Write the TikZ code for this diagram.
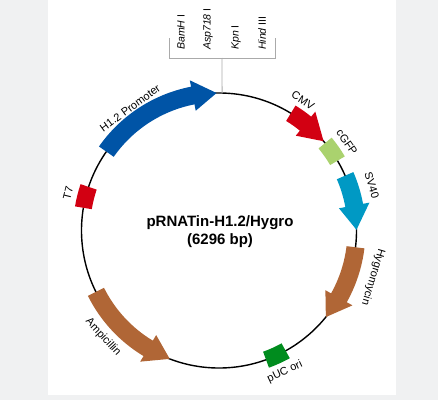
\documentclass[tikz,border=0pt]{standalone}
\usepackage{fontspec}
\setmainfont{Liberation Sans}
\definecolor{bggray}{RGB}{240,241,242}
\definecolor{pblue}{RGB}{0,84,166}
\definecolor{pred}{RGB}{210,0,18}
\definecolor{plgreen}{RGB}{170,210,110}
\definecolor{pcyan}{RGB}{0,153,196}
\definecolor{pbrown}{RGB}{176,102,54}
\definecolor{pdgreen}{RGB}{0,140,30}
\definecolor{sitegray}{RGB}{170,170,170}
\newcommand\plasarrow[4]{%
  \fill[#4] (#1:146.5) arc[start angle=#1, end angle=#2, radius=146.5] -- (#2:153) -- (#3:137.5) -- (#2:122) -- (#2:128.5) arc[start angle=#2, end angle=#1, radius=128.5] -- cycle;}
\newcommand\plasbox[3]{%
  \fill[#3] (#1:146) arc[start angle=#1, end angle=#2, radius=146] -- (#2:129) arc[start angle=#2, end angle=#1, radius=129] -- cycle;}
\begin{document}
\begin{tikzpicture}[x=1pt,y=1pt,
  lab/.style={inner sep=0pt, font=\fontsize{11}{13}\selectfont},
  sitelab/.style={inner sep=0pt, rotate=90, anchor=west, font=\fontsize{10.5}{12}\selectfont},
  titlelab/.style={inner sep=0pt, align=center, font=\bfseries\fontsize{15}{18}\selectfont},
  siteline/.style={draw=sitegray, line width=0.8pt}]
\useasboundingbox (0,0) rectangle (438,400);
\fill[bggray] (0,0) rectangle (438,400);
\fill[white] (48,5) rectangle (396,400);
\begin{scope}[shift={(219,169.5)}]
  \coordinate (top) at (88.7:137.5);
  \draw[line width=1.4pt] (0,0) circle[radius=137.5];
  % features
  \plasarrow{145}{101}{91}{pblue}
  \plasarrow{58.5}{51}{40.5}{pred}
  \plasbox{30.5}{39.5}{plgreen}
  \plasarrow{23.5}{10.5}{0.3}{pcyan}
  \plasarrow{-7}{-29.3}{-39}{pbrown}
  \plasbox{-61}{-70}{pdgreen}
  \plasarrow{206.5}{239}{249}{pbrown}
  \plasbox{161.5}{170.5}{pred}
  % labels
  \node[lab, rotate=36] (lh) at (126:151.4) {H1.2 Promoter};
  \node[lab, rotate=-32.8] (lcmv) at (57.2:155) {CMV};
  \node[lab, rotate=-55.3] (lgfp) at (34.7:155.6) {cGFP};
  \node[lab, rotate=-73.4] (lsv) at (16.6:159.6) {SV40};
  \node[lab, rotate=-106.8] (lhyg) at (-16.8:160.9) {Hygromycin};
  \node[lab, rotate=25] (lpuc) at (-65:156) {pUC ori};
  \node[lab, rotate=-47.4] (lamp) at (222.6:157.5) {Ampicillin};
  \node[lab, rotate=76] (lt7) at (166:155.6) {T7};
\end{scope}
% title
\node[titlelab] (title) at (220,168) {pRNATin-H1.2/Hygro\\(6296 bp)};
% restriction sites
\coordinate (bl) at (169,362);
\coordinate (blb) at (169,342);
\coordinate (brb) at (275,342);
\coordinate (br) at (275,362);
\coordinate (tk) at (222,342);
\draw[siteline] (bl) -- (blb) -- (brb) -- (br);
\draw[siteline] (tk) -- (top);
\node[sitelab] (s1) at (181,350) {\textit{BamH} I};
\node[sitelab] (s2) at (208,350) {\textit{Asp718} I};
\node[sitelab] (s3) at (236,350) {\textit{Kpn} I};
\node[sitelab] (s4) at (262,350) {\textit{Hind} III};
\end{tikzpicture}
\end{document}
